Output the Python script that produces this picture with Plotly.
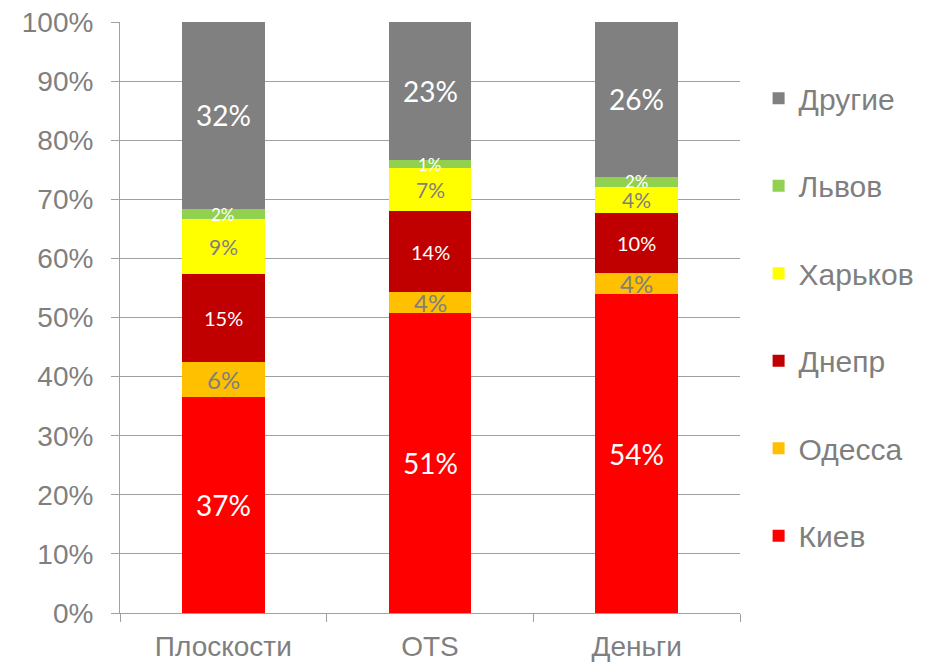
import plotly.graph_objects as go

# Categories and city shares (fractions of the total per category)
categories = ["Плоскости", "OTS", "Деньги"]
series_names = ["Киев", "Одесса", "Днепр", "Харьков", "Львов", "Другие"]

kiev = [0.366, 0.507, 0.539]
odessa = [0.059, 0.036, 0.036]
dnepr = [0.149, 0.137, 0.102]
kharkov = [0.092, 0.073, 0.044]
lviv = [0.018, 0.013, 0.017]
others = [0.316, 0.234, 0.262]

y_tick_values = [0, 0.1, 0.2, 0.3, 0.4, 0.5, 0.6, 0.7, 0.8, 0.9, 1.0]
y_tick_labels = ["0%", "10%", "20%", "30%", "40%", "50%", "60%", "70%", "80%", "90%", "100%"]

series_values = [kiev, odessa, dnepr, kharkov, lviv, others]
colors = ["#FF0000", "#FFC000", "#C00000", "#FFFF00", "#92D050", "#808080"]
label_colors = ["#FFFFFF", "#7F7F7F", "#FFFFFF", "#7F7F7F", "#FFFFFF", "#FFFFFF"]
label_sizes = [28, 24, 20, 21, 17, 28]

GRAY = "#7F7F7F"
AXIS_GRAY = "#A0A0A0"

fig = go.Figure()
n = len(series_names)
for i, (name, vals, col) in enumerate(zip(series_names, series_values, colors)):
    fig.add_trace(go.Bar(
        name=name,
        x=categories,
        y=vals,
        marker=dict(color=col, line=dict(width=0)),
        legendgroup=name,
        legendrank=n - i,  # top segment listed first
        hoverinfo="skip",
    ))

# Segment value labels, centred in each stacked segment
annotations = []
for j, cat in enumerate(categories):
    base = 0.0
    for vals, tcol, tsize in zip(series_values, label_colors, label_sizes):
        v = vals[j]
        annotations.append(dict(
            x=cat, y=base + v / 2, xref="x", yref="y",
            text=f"{round(v * 100):d}%",
            showarrow=False,
            font=dict(family="Lato, Liberation Sans, sans-serif", size=tsize, color=tcol),
        ))
        base += v

fig.update_layout(
    width=928, height=662,
    barmode="stack",
    bargap=0.6,
    plot_bgcolor="white",
    paper_bgcolor="white",
    margin=dict(l=120, r=188, t=22, b=49, autoexpand=False),
    font=dict(family="Liberation Sans, Arial, sans-serif", color=GRAY),
    annotations=annotations,
    showlegend=True,
    legend=dict(
        traceorder="grouped",
        x=1.03, xanchor="left",
        y=0.915, yanchor="top",
        font=dict(size=30, color=GRAY),
        tracegroupgap=45.5,
        itemclick=False,
    ),
)

fig.update_yaxes(
    range=[0, 1],
    tickvals=y_tick_values,
    ticktext=y_tick_labels,
    tickfont=dict(size=28, color=GRAY),
    showgrid=True, gridcolor=AXIS_GRAY, gridwidth=1,
    showline=True, linecolor=AXIS_GRAY, linewidth=1,
    ticks="outside", ticklen=8, tickcolor=AXIS_GRAY,
    zeroline=False,
    automargin=False,
    ticklabelstandoff=12,
)
fig.update_xaxes(
    tickfont=dict(size=28, color=GRAY),
    showline=True, linecolor=AXIS_GRAY, linewidth=1,
    ticks="outside", ticklen=8, tickcolor=AXIS_GRAY,
    tickson="boundaries",
    showgrid=False,
    automargin=False,
    ticklabelstandoff=8,
)

fig.write_html("out.html")
